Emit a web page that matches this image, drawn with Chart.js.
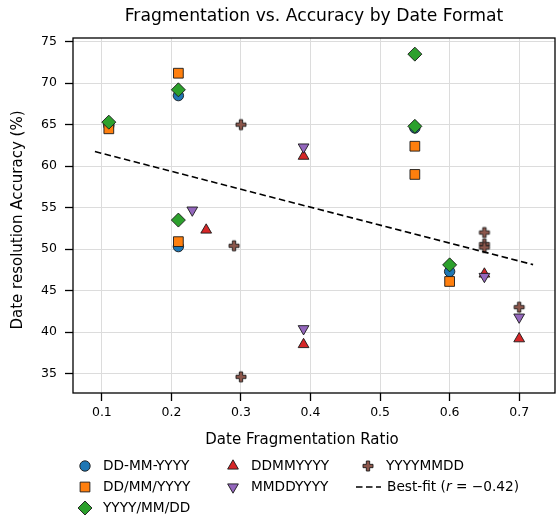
<!DOCTYPE html>
<html>
<head>
<meta charset="utf-8">
<script src="https://cdn.jsdelivr.net/npm/chart.js@4.4.1/dist/chart.umd.min.js"></script>
<style>
  body { margin: 0; background: #fff; }
  canvas { display: block; }
</style>
</head>
<body>
<canvas id="chart" width="557" height="515"></canvas>
<script>
// Date formats (one series each)
const formats = ['DD-MM-YYYY', 'DD/MM/YYYY', 'YYYY/MM/DD', 'DDMMYYYY', 'MMDDYYYY', 'YYYYMMDD'];

// fragmentation ratio / accuracy per format
const ratioDash  = [0.11, 0.21, 0.21, 0.55, 0.60];
const accDash    = [64.9, 68.5, 50.3, 64.6, 47.3];
const ratioSlash = [0.11, 0.21, 0.21, 0.55, 0.55, 0.60];
const accSlash   = [64.5, 71.2, 50.9, 62.4, 59.0, 46.1];
const ratioIso   = [0.11, 0.21, 0.21, 0.55, 0.55, 0.60];
const accIso     = [65.3, 69.2, 53.5, 73.5, 64.8, 48.1];
const ratioDMY   = [0.25, 0.39, 0.39, 0.65, 0.70];
const accDMY     = [52.3, 61.2, 38.5, 47.0, 39.2];
const ratioMDY   = [0.23, 0.39, 0.39, 0.65, 0.70];
const accMDY     = [54.7, 62.3, 40.4, 46.7, 41.8];
const ratioYMD   = [0.30, 0.29, 0.30, 0.65, 0.65, 0.65, 0.70];
const accYMD     = [65.0, 50.4, 34.6, 52.0, 50.6, 50.2, 43.0];

const xTicks = [0.1, 0.2, 0.3, 0.4, 0.5, 0.6, 0.7];
const xTickLabels = ['0.1', '0.2', '0.3', '0.4', '0.5', '0.6', '0.7'];
const yTicks = [35, 40, 45, 50, 55, 60, 65, 70, 75];
const yTickLabels = ['35', '40', '45', '50', '55', '60', '65', '70', '75'];

const fitLabel = 'Best-fit';
const fitR = '−0.42';

const FONT = "'DejaVu Sans', sans-serif";
const colors = ['#1f77b4', '#ff7f0e', '#2ca02c', '#d62728', '#9467bd', '#8c564b'];
const EDGE = '#1a1a1a';

// filled plus marker (matplotlib 'P')
function makePlus(color) {
  const c = document.createElement('canvas');
  c.width = 14; c.height = 14;
  const g = c.getContext('2d');
  const k = 5 / 3;
  const pts = [[-1,-3],[1,-3],[1,-1],[3,-1],[3,1],[1,1],[1,3],[-1,3],[-1,1],[-3,1],[-3,-1],[-1,-1]];
  g.beginPath();
  pts.forEach((p, i) => {
    const px = 7 + p[0] * k, py = 7 + p[1] * k;
    if (i === 0) g.moveTo(px, py); else g.lineTo(px, py);
  });
  g.closePath();
  g.fillStyle = color;
  g.fill();
  g.lineWidth = 0.9;
  g.strokeStyle = EDGE;
  g.stroke();
  return c;
}
const plusImg = makePlus(colors[5]);

const series = [
  { x: ratioDash,  y: accDash,  style: 'circle',   r: 5.2, rot: 0 },
  { x: ratioSlash, y: accSlash, style: 'rect',     r: 6.9, rot: 0 },
  { x: ratioIso,   y: accIso,   style: 'rectRot',  r: 7.0, rot: 0 },
  { x: ratioDMY,   y: accDMY,   style: 'triangle', r: 6.2, rot: 0 },
  { x: ratioMDY,   y: accMDY,   style: 'triangle', r: 6.2, rot: 180 },
  { x: ratioYMD,   y: accYMD,   style: plusImg,    r: 6,   rot: 0 }
];

// least squares best fit over all points
const allX = [].concat(...series.map(s => s.x));
const allY = [].concat(...series.map(s => s.y));
const n = allX.length;
const mx = allX.reduce((a, b) => a + b, 0) / n;
const my = allY.reduce((a, b) => a + b, 0) / n;
let sxy = 0, sxx = 0;
for (let i = 0; i < n; i++) { sxy += (allX[i] - mx) * (allY[i] - my); sxx += (allX[i] - mx) ** 2; }
const slope = sxy / sxx;
const icpt = my - slope * mx;
const fitX0 = Math.min(...allX) - 0.02, fitX1 = Math.max(...allX) + 0.02;
const fitPts = [{ x: fitX0, y: icpt + slope * fitX0 }, { x: fitX1, y: icpt + slope * fitX1 }];

// axis limits with 5% margins like matplotlib
const xlo = fitX0, xhi = fitX1;
const ylo = Math.min(...allY), yhi = Math.max(...allY);
const xMin = xlo - 0.05 * (xhi - xlo), xMax = xhi + 0.05 * (xhi - xlo);
const yMin = ylo - 0.05 * (yhi - ylo), yMax = yhi + 0.05 * (yhi - ylo);

const datasets = series.map((s, i) => ({
  label: formats[i],
  data: s.x.map((v, j) => ({ x: v, y: s.y[j] })),
  pointStyle: s.style,
  pointRadius: s.r,
  pointHoverRadius: s.r,
  pointRotation: s.rot,
  backgroundColor: colors[i],
  borderColor: EDGE,
  borderWidth: 0.9,
  order: 10 - i
}));
datasets.push({
  label: 'fit',
  data: fitPts,
  showLine: true,
  borderColor: '#000',
  borderWidth: 1.6,
  borderDash: [6.5, 3.5],
  pointRadius: 0,
  fill: false,
  order: 1
});

const decor = {
  id: 'decor',
  afterDraw(chart) {
    const ctx = chart.ctx;
    const a = chart.chartArea;
    ctx.save();
    // frame
    ctx.strokeStyle = '#000';
    ctx.lineWidth = 1.3;
    ctx.strokeRect(a.left, a.top, a.right - a.left, a.bottom - a.top);

    ctx.fillStyle = '#000';
    ctx.textAlign = 'center';
    ctx.textBaseline = 'middle';
    const cx = (a.left + a.right) / 2;
    ctx.font = `17.2px ${FONT}`;
    ctx.fillText('Fragmentation vs. Accuracy by Date Format', cx, 17);
    ctx.font = `15px ${FONT}`;
    ctx.fillText('Date Fragmentation Ratio', 302, 440);
    ctx.save();
    ctx.translate(18, 220);
    ctx.rotate(-Math.PI / 2);
    ctx.fillText('Date resolution Accuracy (%)', 0, 0);
    ctx.restore();

    // legend, column major
    const cols = [85, 233, 368];
    const rows = [466, 487, 508];
    const slots = [[0, 0], [0, 1], [0, 2], [1, 0], [1, 1], [2, 0]];
    ctx.font = `13.7px ${FONT}`;
    ctx.textAlign = 'left';
    series.forEach((s, i) => {
      const mxp = cols[slots[i][0]], myp = rows[slots[i][1]];
      if (typeof s.style === 'string') {
        ctx.fillStyle = colors[i];
        ctx.strokeStyle = EDGE;
        ctx.lineWidth = 0.9;
        Chart.helpers.drawPoint(ctx, { pointStyle: s.style, radius: s.r, rotation: s.rot, borderWidth: 0.9 }, mxp, myp);
      } else {
        ctx.drawImage(s.style, mxp - 7, myp - 7);
      }
      ctx.fillStyle = '#000';
      ctx.fillText(formats[i], mxp + 18, myp);
    });
    // best-fit entry
    const ly = rows[1];
    ctx.strokeStyle = '#000';
    ctx.lineWidth = 1.6;
    ctx.setLineDash([6.5, 3.5]);
    ctx.beginPath();
    ctx.moveTo(356, ly);
    ctx.lineTo(381, ly);
    ctx.stroke();
    ctx.setLineDash([]);
    let tx = 387;
    const part = (t, f) => { ctx.font = f; ctx.fillText(t, tx, ly); tx += ctx.measureText(t).width; };
    part(fitLabel + ' (', `13.7px ${FONT}`);
    part('r', `oblique 13.7px ${FONT}`);
    part(' = ', `13.7px ${FONT}`);
    part(fitR, `13.7px ${FONT}`);
    part(')', `13.7px ${FONT}`);
    ctx.restore();
  }
};

const gridCommon = { color: '#dcdcdc', lineWidth: 1, tickColor: '#000', tickLength: 8, tickWidth: 1.3 };

new Chart(document.getElementById('chart'), {
  type: 'scatter',
  data: { datasets },
  options: {
    responsive: false,
    animation: false,
    devicePixelRatio: 1,
    layout: { autoPadding: false, padding: { top: 38, right: 2, left: 0, bottom: 0 } },
    plugins: { legend: { display: false }, title: { display: false }, tooltip: { enabled: false } },
    scales: {
      x: {
        type: 'linear', min: xMin, max: xMax,
        afterFit: s => { s.height = 122; s.paddingLeft = 0; s.paddingRight = 0; },
        afterBuildTicks: s => { s.ticks = xTicks.map(v => ({ value: v })); },
        ticks: { font: { family: FONT, size: 12.5 }, color: '#000', padding: 4, maxRotation: 0,
                 callback: (v, i) => xTickLabels[i] },
        grid: gridCommon,
        border: { display: false }
      },
      y: {
        type: 'linear', min: yMin, max: yMax,
        afterFit: s => { s.width = 73; s.paddingTop = 0; s.paddingBottom = 0; },
        afterBuildTicks: s => { s.ticks = yTicks.map(v => ({ value: v })); },
        ticks: { font: { family: FONT, size: 12.5 }, color: '#000', padding: 8,
                 callback: (v, i) => yTickLabels[i] },
        grid: gridCommon,
        border: { display: false }
      }
    }
  },
  plugins: [decor]
});
</script>
</body>
</html>
